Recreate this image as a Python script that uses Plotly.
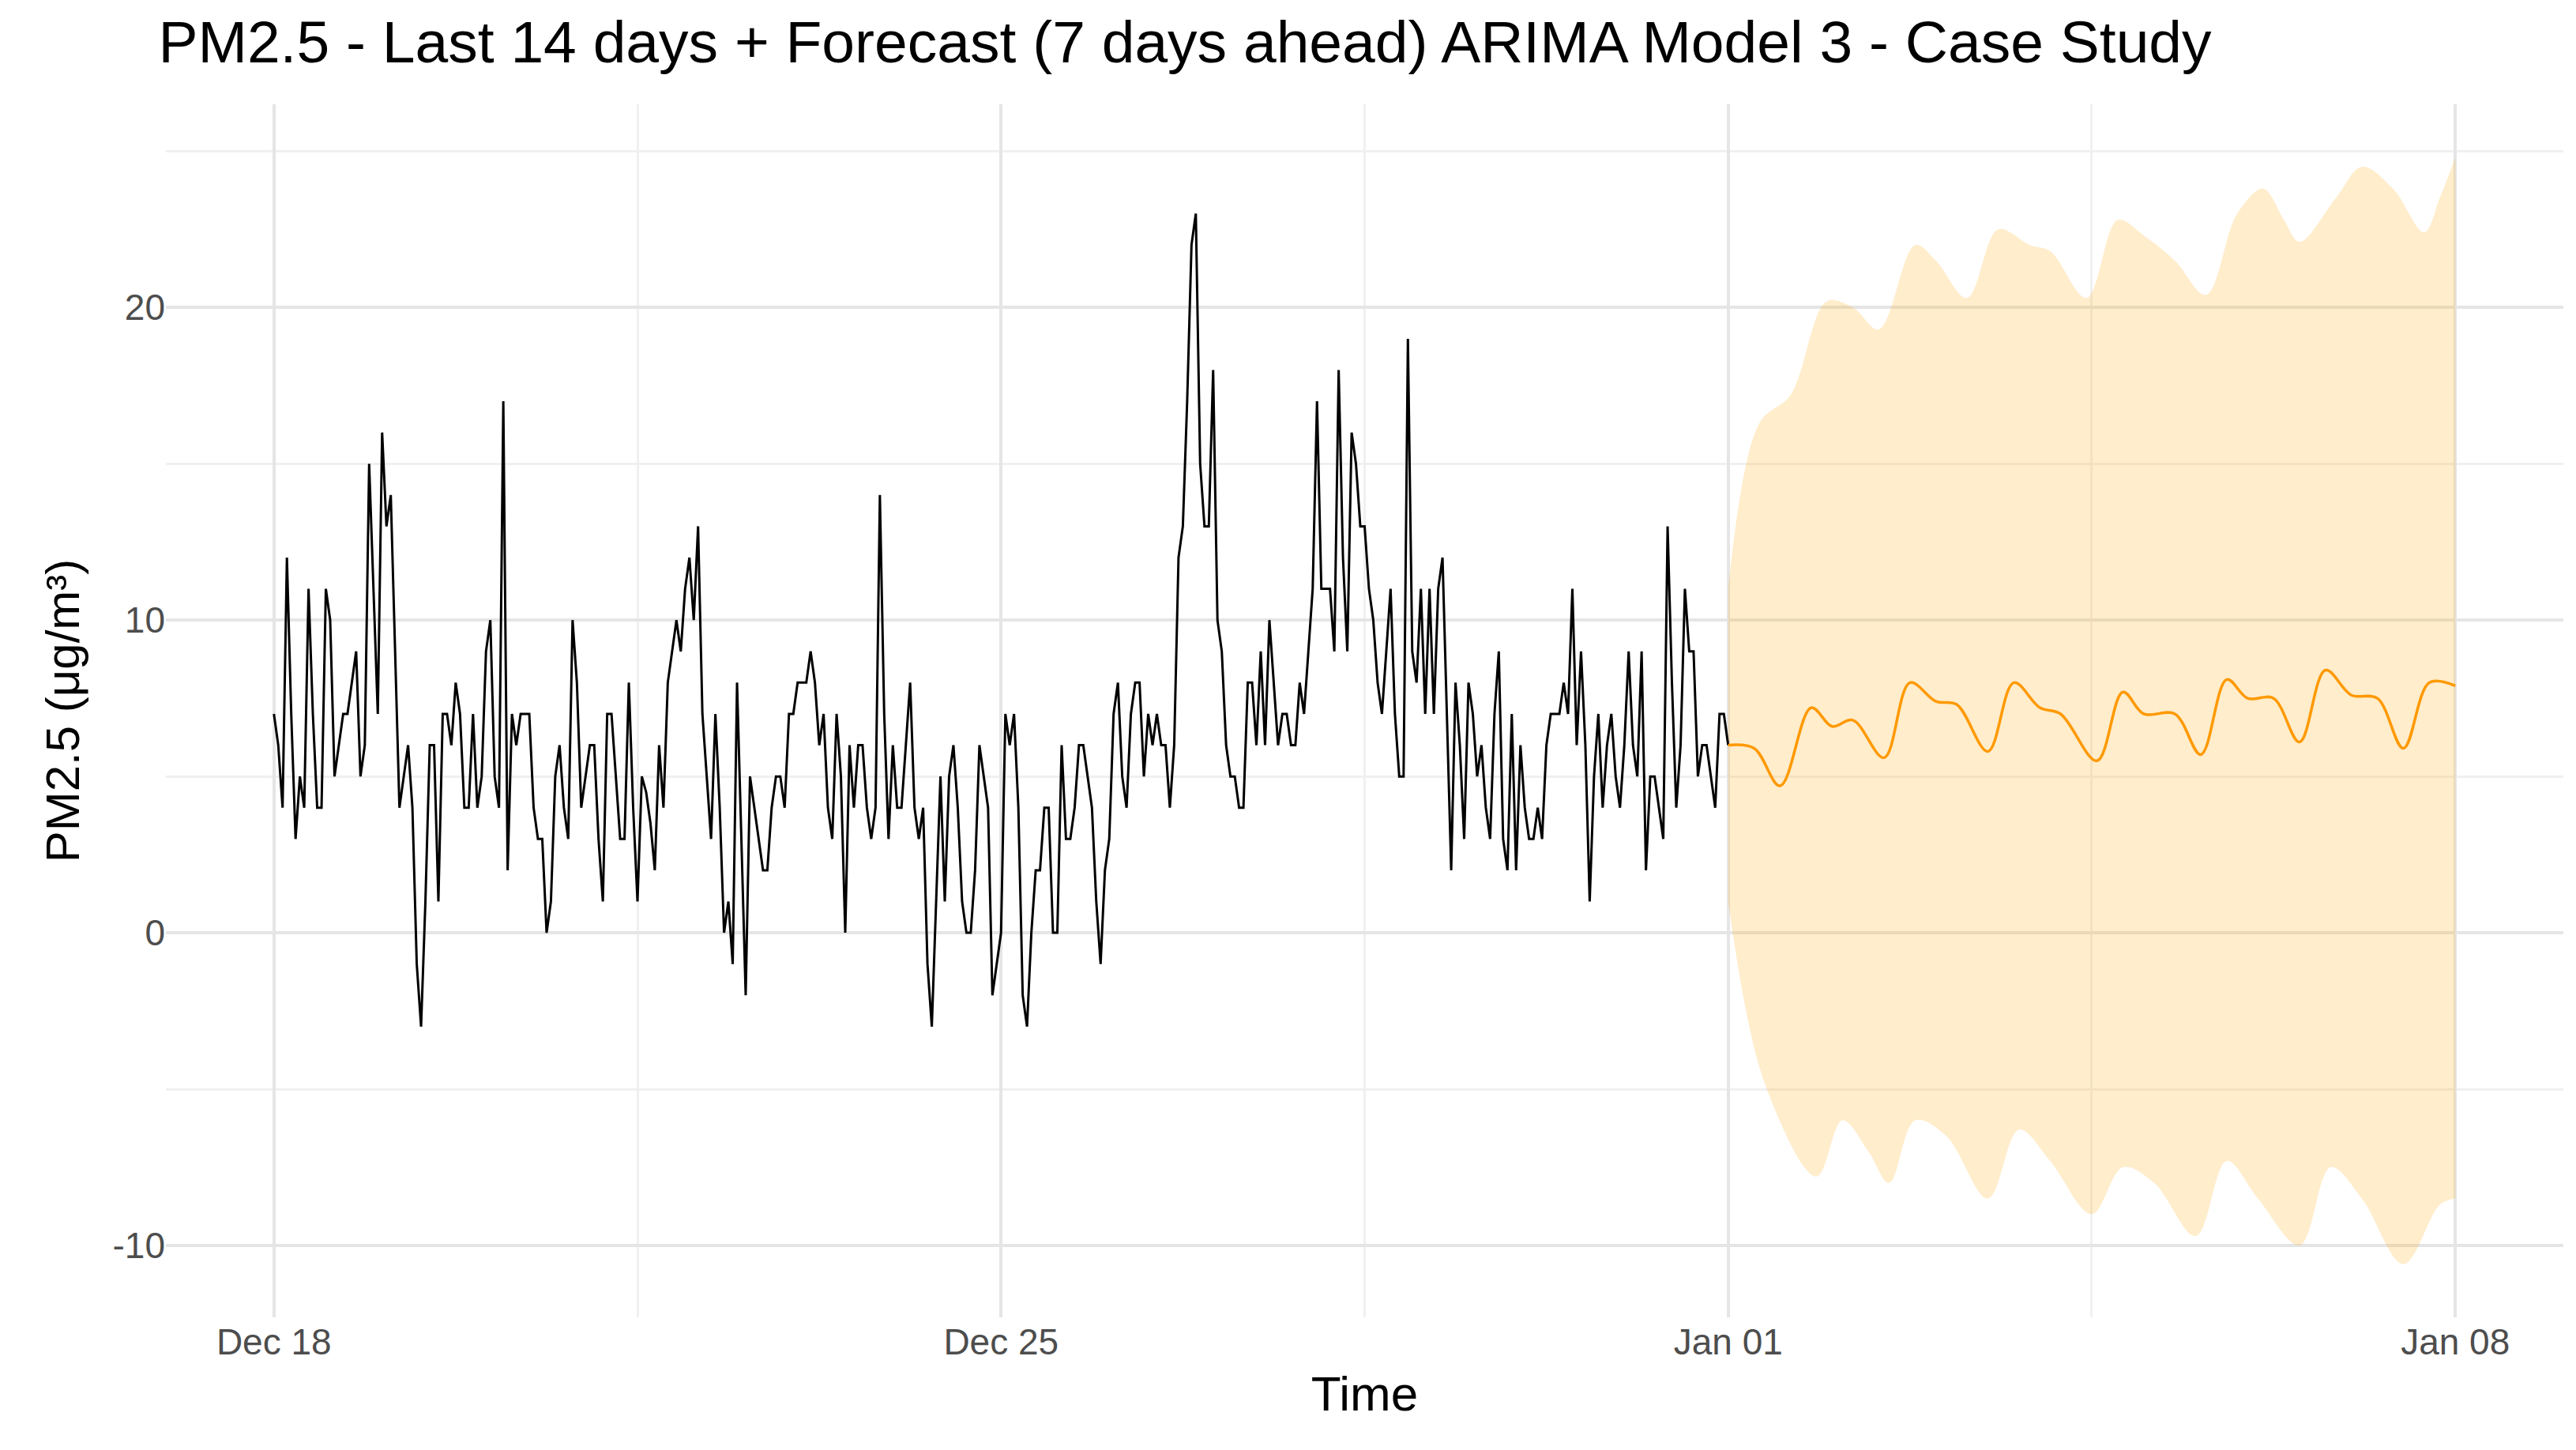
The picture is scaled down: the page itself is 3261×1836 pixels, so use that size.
import plotly.graph_objects as go
import pandas as pd

observed = [
    7, 6, 4, 12, 7, 3, 5, 4, 11, 7, 4, 4, 11, 10, 5, 6, 7, 7, 8, 9, 5, 6, 15, 11, 7, 16, 13, 14, 9, 4,
    5, 6, 4, -1, -3, 1, 6, 6, 1, 7, 7, 6, 8, 7, 4, 4, 7, 4, 5, 9, 10, 5, 4, 17, 2, 7, 6, 7, 7, 7,
    4, 3, 3, 0, 1, 5, 6, 4, 3, 10, 8, 4, 5, 6, 6, 3, 1, 7, 7, 5, 3, 3, 8, 4, 1, 5,
    4.5, 3.5, 2, 6, 4, 8, 9, 10, 9, 11, 12, 10, 13, 7, 5, 3, 7, 4, 0, 1, -1, 8, 3, -2, 5, 4, 3, 2, 2,
    4, 5, 5, 4, 7, 7, 8, 8, 8, 9, 8, 6, 7, 4, 3, 7, 5, 0, 6, 4, 6, 6, 4, 3, 4, 14, 7, 3, 6, 4, 4,
    6, 8, 4, 3, 4, -1, -3, 1, 5, 1, 5, 6, 4, 1, 0, 0, 2, 6, 5, 4, -2, -1, 0, 7, 6, 7,
    4, -2, -3, 0, 2, 2, 4, 4, 0, 0, 6, 3, 3, 4, 6, 6, 5, 4, 1, -1, 2, 3, 7, 8, 5, 4, 7, 8, 8, 5,
    7, 6, 7, 6, 6, 4, 6, 12, 13, 17, 22, 23, 15, 13, 13, 18, 10, 9, 6, 5, 5, 4, 4, 8, 8, 6, 9, 6,
    10, 8, 6, 7, 7, 6, 6, 8, 7, 9, 11, 17, 11, 11, 11, 9, 18, 12, 9, 16, 15, 13, 13, 11, 10, 8,
    7, 9, 11, 7, 5, 5, 19, 9, 8, 11, 7, 11, 7, 11, 12, 7, 2, 8, 6, 3, 8, 7, 5, 6, 4, 3, 7, 9,
    3, 2, 7, 2, 6, 4, 3, 3, 4, 3, 6, 7, 7, 7, 8, 7, 11, 6, 9, 6, 1, 5, 7, 4, 6, 7, 5, 4, 6, 9,
    6, 5, 9, 2, 5, 5, 4, 3, 13, 8, 4, 6, 11, 9, 9, 5, 6, 6, 5, 4, 7, 7, 6,
]

# Forecast (days after Jan 01), mean and 95% band
fc_days = [0, 0.25, 0.5, 0.8, 1.0, 1.2, 1.5, 1.75, 2.0, 2.2, 2.5, 2.75, 3.0, 3.2, 3.55, 3.8,
           4.0, 4.3, 4.55, 4.8, 5.0, 5.25, 5.5, 5.75, 6.0, 6.25, 6.5, 6.75, 7.0]
fc_mean = [6.0, 5.9, 4.7, 7.2, 6.6, 6.8, 5.6, 8.0, 7.4, 7.3, 5.8, 8.0, 7.2, 7.0, 5.5, 7.7,
           7.0, 7.0, 5.7, 8.1, 7.5, 7.5, 6.1, 8.4, 7.6, 7.5, 5.9, 8.0, 7.9]
fc_upper = [11.0, 16.3, 17.2, 20.2, 20.0, 19.3, 22.0, 21.5, 20.3, 22.5, 22.0, 21.8, 20.3, 22.8,
            22.3, 21.5, 20.4, 23.0, 23.8, 22.8, 22.1, 23.5, 24.5, 23.8, 22.4, 23.5, 24.8]
fc_upper_days = [0, 0.3, 0.6, 0.95, 1.2, 1.45, 1.8, 2.0, 2.3, 2.6, 2.9, 3.1, 3.45, 3.75,
                 4.0, 4.3, 4.6, 4.9, 5.15, 5.35, 5.5, 5.85, 6.1, 6.4, 6.7, 6.85, 7.0]
fc_lower = [1.0, -4.8, -7.8, -6, -7, -8, -6, -6.5, -8.5, -6.3, -7.3, -9, -7.5, -8, -9.7, -7.3,
            -8.5, -10, -7.5, -8.5, -10.6, -8.7, -8.5]
fc_lower_days = [0, 0.35, 0.85, 1.1, 1.35, 1.55, 1.8, 2.1, 2.5, 2.8, 3.1, 3.5, 3.8, 4.1,
                 4.5, 4.8, 5.1, 5.5, 5.8, 6.1, 6.5, 6.85, 7.0]

x_ticks = ["2023-12-18", "2023-12-25", "2024-01-01", "2024-01-08"]
x_tick_labels = ["Dec 18", "Dec 25", "Jan 01", "Jan 08"]
y_ticks = [-10, 0, 10, 20]
y_tick_labels = ["-10", "0", "10", "20"]

start = pd.Timestamp("2023-12-18")
split = pd.Timestamp("2024-01-01")
obs_time = pd.date_range(start, split, periods=len(observed))


def to_time(days):
    return [split + pd.Timedelta(days=d) for d in days]


fig = go.Figure()

fig.add_trace(go.Scatter(x=to_time(fc_upper_days), y=fc_upper, mode='lines', line=dict(width=0, shape='spline'),
                         showlegend=False, hoverinfo='skip'))
fig.add_trace(go.Scatter(x=to_time(fc_lower_days), y=fc_lower, mode='lines', line=dict(width=0, shape='spline'),
                         fill='tonexty', fillcolor='rgba(255,165,0,0.2)', showlegend=False, hoverinfo='skip'))
fig.add_trace(go.Scatter(x=obs_time, y=observed, mode='lines', line=dict(color='black', width=3),
                         showlegend=False))
fig.add_trace(go.Scatter(x=to_time(fc_days), y=fc_mean, mode='lines',
                         line=dict(color='#FF9900', width=3.5, shape='spline'), showlegend=False))

fig.update_layout(
    width=3261, height=1836,
    paper_bgcolor='white', plot_bgcolor='white',
    font=dict(family='Liberation Sans, Arial, sans-serif', color='black'),
    title=dict(text='PM2.5 - Last 14 days + Forecast (7 days ahead) ARIMA Model 3 - Case Study',
               x=0.059, xanchor='left', y=0.99, yanchor='top', font=dict(size=75)),
    margin=dict(l=202, r=24, t=124, b=176),
    xaxis=dict(
        title=dict(text='Time', font=dict(size=62), standoff=18),
        range=[start - pd.Timedelta(days=1.04), pd.Timestamp("2024-01-08") + pd.Timedelta(days=1.04)],
        tickvals=x_ticks, ticktext=x_tick_labels,
        tickfont=dict(size=46, color='#4d4d4d'),
        showgrid=True, gridcolor='#e5e5e5', gridwidth=4,
        minor=dict(tickvals=["2023-12-21 12:00", "2023-12-28 12:00", "2024-01-04 12:00"],
                   showgrid=True, gridcolor='#f0f0f0', gridwidth=2.5),
        zeroline=False, showline=False, ticks='',
    ),
    yaxis=dict(
        title=dict(text='PM2.5 (μg/m³)', font=dict(size=60), standoff=22),
        range=[-12.3, 26.5],
        tickvals=y_ticks, ticktext=y_tick_labels,
        tickfont=dict(size=46, color='#4d4d4d'),
        showgrid=True, gridcolor='#e5e5e5', gridwidth=4,
        minor=dict(tickvals=[-5, 5, 15, 25], showgrid=True, gridcolor='#f0f0f0', gridwidth=2.5),
        zeroline=False, showline=False, ticks='',
    ),
)

fig.write_html("out.html")
